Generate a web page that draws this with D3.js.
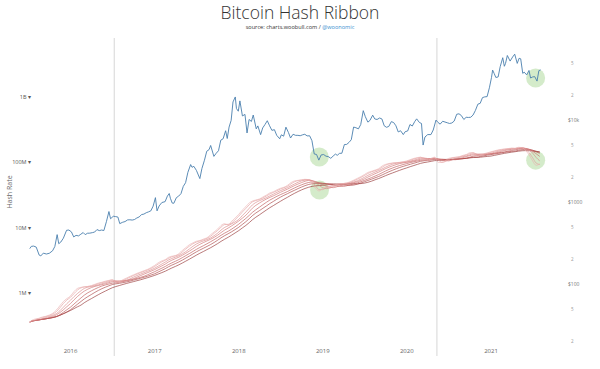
<!DOCTYPE html>
<html>
<head>
<meta charset="utf-8">
<script src="https://cdn.jsdelivr.net/npm/d3@7"></script>
<style>
  html, body { margin: 0; padding: 0; background: #fff; }
  svg { display: block; font-family: "Open Sans", sans-serif; }
</style>
</head>
<body>
<svg id="chart" width="600" height="369"></svg>
<script>
// ---------- DATA ----------
const titleText = "Bitcoin Hash Ribbon";
const sourceText = "source: charts.woobull.com / ";
const handleText = "@woonomic";
const yearTicks = ["2016-01-01","2017-01-01","2018-01-01","2019-01-01","2020-01-01","2021-01-01"];
const hashTicks = [1e6, 1e7, 1e8, 1e9];
const hashTickLabels = ["1M", "10M", "100M", "1B"];
const priceMajorTicks = [100, 1000, 10000];
const priceMajorLabels = ["$100", "$1000", "$10k"];
const priceMinorTicks = [20, 50, 200, 500, 2000, 5000, 20000, 50000];
const priceMinorLabels = ["2", "5", "2", "5", "2", "5", "2", "5"];
const halvingDates = ["2016-07-09", "2020-05-11"];

// BTC price (USD)
const priceSeries = [
["2015-07-08",270],["2015-07-15",288],["2015-07-25",290],["2015-08-05",282],["2015-08-18",225],["2015-08-25",220],
["2015-09-05",238],["2015-09-18",232],["2015-10-01",237],["2015-10-15",254],["2015-10-25",287],["2015-11-04",400],
["2015-11-11",310],["2015-11-20",325],["2015-12-01",362],["2015-12-15",452],["2015-12-25",455],
["2016-01-05",432],["2016-01-15",375],["2016-01-25",392],["2016-02-05",386],["2016-02-15",405],["2016-02-25",424],
["2016-03-05",400],["2016-03-15",416],["2016-03-25",417],["2016-04-05",423],["2016-04-15",430],["2016-04-25",461],
["2016-05-05",448],["2016-05-15",455],["2016-05-25",449],["2016-06-05",575],["2016-06-16",765],["2016-06-23",625],
["2016-07-05",670],["2016-07-15",664],["2016-07-25",655],["2016-08-02",545],["2016-08-15",567],["2016-08-25",577],
["2016-09-05",605],["2016-09-15",607],["2016-09-25",602],["2016-10-05",611],["2016-10-15",638],["2016-10-25",657],
["2016-11-05",703],["2016-11-15",712],["2016-11-25",740],["2016-12-05",758],["2016-12-15",780],["2016-12-25",890],
["2017-01-04",1130],["2017-01-11",780],["2017-01-20",895],["2017-02-01",985],["2017-02-15",1010],["2017-02-25",1180],
["2017-03-05",1270],["2017-03-10",1110],["2017-03-18",970],["2017-03-25",965],["2017-04-05",1130],["2017-04-15",1180],
["2017-04-25",1265],["2017-05-05",1550],["2017-05-15",1720],["2017-05-25",2300],["2017-06-06",2860],["2017-06-12",2650],
["2017-06-20",2720],["2017-07-01",2430],["2017-07-16",1930],["2017-07-25",2560],["2017-08-05",3230],["2017-08-15",4160],
["2017-08-25",4350],["2017-09-01",4890],["2017-09-15",3600],["2017-09-25",3930],["2017-10-05",4220],["2017-10-15",5680],
["2017-10-25",5900],["2017-11-05",7400],["2017-11-12",5950],["2017-11-20",8200],["2017-11-29",9900],["2017-12-07",16600],
["2017-12-17",19100],["2017-12-22",13800],["2017-12-30",12800],
["2018-01-06",17100],["2018-01-17",11200],["2018-01-28",11700],["2018-02-06",6950],["2018-02-15",10150],["2018-02-25",9600],
["2018-03-05",11500],["2018-03-18",7800],["2018-03-25",8470],["2018-04-06",6630],["2018-04-15",8000],["2018-04-25",8800],
["2018-05-05",9800],["2018-05-15",8500],["2018-05-25",7480],["2018-06-05",7620],["2018-06-15",6500],["2018-06-28",5900],
["2018-07-05",6600],["2018-07-15",6350],["2018-07-25",8180],["2018-08-05",7030],["2018-08-14",6030],["2018-08-25",6700],
["2018-09-05",6500],["2018-09-15",6500],["2018-09-25",6430],["2018-10-05",6590],["2018-10-15",6700],["2018-10-25",6400],
["2018-11-05",6420],["2018-11-15",5600],["2018-11-25",3850],["2018-12-05",3800],["2018-12-15",3240],["2018-12-25",3750],
["2019-01-05",3790],["2019-01-15",3620],["2019-01-25",3580],["2019-02-05",3410],["2019-02-15",3630],["2019-02-25",3840],
["2019-03-05",3710],["2019-03-15",3920],["2019-03-25",3930],["2019-04-05",5020],["2019-04-15",5040],["2019-04-25",5330],
["2019-05-05",5750],["2019-05-15",8200],["2019-05-25",8050],["2019-06-05",7800],["2019-06-15",8800],["2019-06-26",13000],
["2019-07-05",10970],["2019-07-16",9420],["2019-07-25",9880],["2019-08-06",11450],["2019-08-15",10300],["2019-08-25",10150],
["2019-09-05",10580],["2019-09-15",10300],["2019-09-25",8500],["2019-10-05",8150],["2019-10-15",8350],["2019-10-26",9550],
["2019-11-05",9310],["2019-11-15",8500],["2019-11-25",7150],["2019-12-05",7400],["2019-12-17",6640],["2019-12-25",7200],
["2020-01-05",7350],["2020-01-15",8820],["2020-01-25",8440],["2020-02-05",9610],["2020-02-13",10330],["2020-02-25",9320],
["2020-03-05",9070],["2020-03-12",4950],["2020-03-20",6200],["2020-04-01",6640],["2020-04-15",6640],["2020-04-25",7550],
["2020-05-07",9980],["2020-05-15",9380],["2020-05-25",8900],["2020-06-05",9650],["2020-06-15",9450],["2020-06-25",9250],
["2020-07-05",9070],["2020-07-15",9200],["2020-07-25",9700],["2020-08-05",11750],["2020-08-15",11900],["2020-08-25",11350],
["2020-09-05",10150],["2020-09-15",10790],["2020-09-25",10740],["2020-10-05",10800],["2020-10-15",11500],["2020-10-25",13030],
["2020-11-05",15600],["2020-11-15",15960],["2020-11-25",18750],["2020-12-05",19150],["2020-12-15",19270],["2020-12-25",24700],
["2021-01-03",32800],["2021-01-08",40600],["2021-01-15",36800],["2021-01-22",33000],["2021-02-01",33500],["2021-02-10",44800],
["2021-02-21",57500],["2021-02-28",45200],["2021-03-05",48900],["2021-03-13",61200],["2021-03-25",52300],["2021-04-05",58700],
["2021-04-14",63500],["2021-04-25",49000],["2021-05-03",56600],["2021-05-10",55800],["2021-05-19",37000],["2021-05-25",38400],
["2021-06-05",35500],["2021-06-15",40200],["2021-06-22",32500],["2021-07-01",33500],["2021-07-10",33800],["2021-07-20",29800],
["2021-07-28",40000],["2021-08-05",40800]
];

// Hash rate, EH/s (= 1e6 TH/s)
const hashSeriesEH = [
["2015-07-08",0.36],["2015-07-16",0.38],["2015-08-01",0.40],["2015-08-16",0.41],["2015-09-01",0.43],["2015-09-16",0.44],
["2015-10-01",0.46],["2015-10-16",0.49],["2015-11-01",0.55],["2015-11-16",0.64],["2015-12-01",0.74],["2015-12-16",0.82],
["2016-01-01",0.90],["2016-01-16",1.05],["2016-02-01",1.18],["2016-02-16",1.22],["2016-03-01",1.25],["2016-03-16",1.26],
["2016-04-01",1.30],["2016-04-16",1.36],["2016-05-01",1.42],["2016-05-16",1.46],["2016-06-01",1.52],["2016-06-16",1.56],
["2016-07-01",1.60],["2016-07-16",1.45],["2016-08-01",1.50],["2016-08-16",1.60],["2016-09-01",1.70],["2016-09-16",1.80],
["2016-10-01",1.90],["2016-10-16",2.00],["2016-11-01",2.10],["2016-11-16",2.20],["2016-12-01",2.30],["2016-12-16",2.45],
["2017-01-01",2.65],["2017-01-16",2.90],["2017-02-01",3.10],["2017-02-16",3.25],["2017-03-01",3.50],["2017-03-16",3.65],
["2017-04-01",3.75],["2017-04-16",4.00],["2017-05-01",4.50],["2017-05-16",4.95],["2017-06-01",5.50],["2017-06-16",5.85],
["2017-07-01",6.20],["2017-07-16",6.35],["2017-08-01",6.70],["2017-08-16",7.00],["2017-09-01",7.80],["2017-09-16",8.60],
["2017-10-01",9.50],["2017-10-16",10.8],["2017-11-01",11.5],["2017-11-16",11.0],["2017-12-01",12.5],["2017-12-16",14.0],
["2018-01-01",16.0],["2018-01-16",18.5],["2018-02-01",21.0],["2018-02-16",24.0],["2018-03-01",25.5],["2018-03-16",26.5],
["2018-04-01",27.5],["2018-04-16",29.5],["2018-05-01",31.5],["2018-05-16",34.0],["2018-06-01",35.5],["2018-06-16",38.0],
["2018-07-01",40.0],["2018-07-16",41.5],["2018-08-01",44.5],["2018-08-16",49.0],["2018-09-01",52.0],["2018-09-16",53.0],
["2018-10-01",54.0],["2018-10-16",55.0],["2018-11-01",54.0],["2018-11-16",47.0],["2018-12-01",40.0],["2018-12-16",36.5],
["2019-01-01",40.0],["2019-01-16",42.0],["2019-02-01",43.0],["2019-02-16",44.5],["2019-03-01",46.0],["2019-03-16",47.0],
["2019-04-01",47.5],["2019-04-16",48.5],["2019-05-01",50.5],["2019-05-16",53.5],["2019-06-01",57.0],["2019-06-16",60.5],
["2019-07-01",65.0],["2019-07-16",70.0],["2019-08-01",73.0],["2019-08-16",76.0],["2019-09-01",80.0],["2019-09-16",88.0],
["2019-10-01",93.0],["2019-10-16",96.0],["2019-11-01",98.0],["2019-11-16",99.0],["2019-12-01",100.0],["2019-12-16",102.0],
["2020-01-01",105.0],["2020-01-16",110.0],["2020-02-01",115.0],["2020-02-16",118.0],["2020-03-01",120.0],["2020-03-16",112.0],
["2020-04-01",107.0],["2020-04-16",115.0],["2020-05-01",120.0],["2020-05-16",100.0],["2020-06-01",100.0],["2020-06-16",105.0],
["2020-07-01",115.0],["2020-07-16",118.0],["2020-08-01",120.0],["2020-08-16",122.0],["2020-09-01",128.0],["2020-09-16",132.0],
["2020-10-01",140.0],["2020-10-16",140.0],["2020-11-01",125.0],["2020-11-16",130.0],["2020-12-01",135.0],["2020-12-16",140.0],
["2021-01-01",145.0],["2021-01-16",150.0],["2021-02-01",155.0],["2021-02-16",158.0],["2021-03-01",160.0],["2021-03-16",162.0],
["2021-04-01",165.0],["2021-04-16",163.0],["2021-05-01",170.0],["2021-05-16",168.0],["2021-06-01",150.0],["2021-06-16",130.0],
["2021-07-01",105.0],["2021-07-16",90.0],["2021-08-01",95.0]
];

// Ribbon moving-average windows (number of half-month samples)
const ribbonWindows = [1, 2, 4, 6, 9, 12, 16];
const ribbonColors = ["#eab0b0", "#e29a9a", "#d88282", "#cc6a6a", "#bb5050", "#a63a3a", "#8f2828"];

// Highlight circles (capitulation zones)
const pricePoints = [["2018-12-17", 3540], ["2021-07-14", 32500]];
const hashPoints = [["2018-12-18", 37.8], ["2021-07-14", 108]];

// ---------- CHART ----------
const parse = d3.timeParse("%Y-%m-%d");
const svg = d3.select("#chart");

const x = d3.scaleTime()
  .domain([parse("2016-01-01"), parse("2021-01-01")])
  .range([70.5, 491]);
const yHash = d3.scaleLog().domain([1e6, 1e9]).range([293, 97]);
const yPrice = d3.scaleLog().domain([100, 10000]).range([284, 120]);

// title
svg.append("text").attr("x", 300).attr("y", 19).attr("text-anchor", "middle")
  .attr("font-size", 17.5).attr("font-weight", 300).attr("fill", "#333").text(titleText);
const sub = svg.append("text").attr("x", 300).attr("y", 28.5).attr("text-anchor", "middle")
  .attr("font-size", 5.6).attr("fill", "#333");
sub.append("tspan").text(sourceText);
sub.append("tspan").attr("fill", "#3a8fd0").text(handleText);

// halving lines
svg.selectAll("line.halving").data(halvingDates).join("line")
  .attr("class", "halving")
  .attr("x1", d => x(parse(d))).attr("x2", d => x(parse(d)))
  .attr("y1", 38).attr("y2", 356)
  .attr("stroke", "#d6d6d6").attr("stroke-width", 1);

// left axis labels
svg.append("g").selectAll("text").data(hashTicks).join("text")
  .attr("x", 31).attr("y", d => yHash(d) + 2)
  .attr("text-anchor", "end").attr("font-size", 5.5).attr("fill", "#555")
  .text((d, i) => hashTickLabels[i] + " \u25BE");

svg.append("text").attr("transform", "translate(12,192) rotate(-90)")
  .attr("text-anchor", "middle").attr("font-size", 7).attr("fill", "#666").text("Hash Rate");

// right axis labels
svg.append("g").selectAll("text").data(priceMajorTicks).join("text")
  .attr("x", 568).attr("y", d => yPrice(d) + 2)
  .attr("font-size", 5).attr("fill", "#777")
  .text((d, i) => priceMajorLabels[i]);
svg.append("g").selectAll("text").data(priceMinorTicks).join("text")
  .attr("x", 571).attr("y", d => yPrice(d) + 2)
  .attr("font-size", 4.5).attr("fill", "#999")
  .text((d, i) => priceMinorLabels[i]);

// x axis labels
svg.append("g").selectAll("text").data(yearTicks).join("text")
  .attr("x", d => x(parse(d))).attr("y", 352.5)
  .attr("text-anchor", "middle").attr("font-size", 6).attr("fill", "#666")
  .text(d => d.slice(0, 4));

// green highlight circles
const circleData = pricePoints.map(d => ({cx: x(parse(d[0])), cy: yPrice(d[1])}))
  .concat(hashPoints.map(d => ({cx: x(parse(d[0])), cy: yHash(d[1] * 1e6)})));
svg.append("g").selectAll("circle").data(circleData).join("circle")
  .attr("cx", d => d.cx).attr("cy", d => d.cy).attr("r", 9.5)
  .attr("fill", "#9fd38a").attr("fill-opacity", 0.45);

// ribbon: trailing moving averages of hash rate
const hashPts = hashSeriesEH.map(d => ({date: parse(d[0]), v: d[1] * 1e6}));
const ribbonLine = d3.line().x(d => x(d.date)).y(d => yHash(d.v)).curve(d3.curveMonotoneX);
const ribbonG = svg.append("g");
ribbonWindows.slice().reverse().forEach((w, ri) => {
  const idx = ribbonWindows.length - 1 - ri;
  const ma = hashPts.map((p, i) => {
    const s = hashPts.slice(Math.max(0, i - w + 1), i + 1);
    return {date: p.date, v: d3.mean(s, q => q.v)};
  });
  ribbonG.append("path").datum(ma).attr("d", ribbonLine)
    .attr("fill", "none").attr("stroke", ribbonColors[idx])
    .attr("stroke-width", 0.65).attr("stroke-opacity", 0.95);
});

// price line
const priceLine = d3.line().x(d => x(parse(d[0]))).y(d => yPrice(d[1]));
svg.append("path").datum(priceSeries).attr("d", priceLine)
  .attr("fill", "none").attr("stroke", "#4a7fae").attr("stroke-width", 0.9);
</script>
</body>
</html>
